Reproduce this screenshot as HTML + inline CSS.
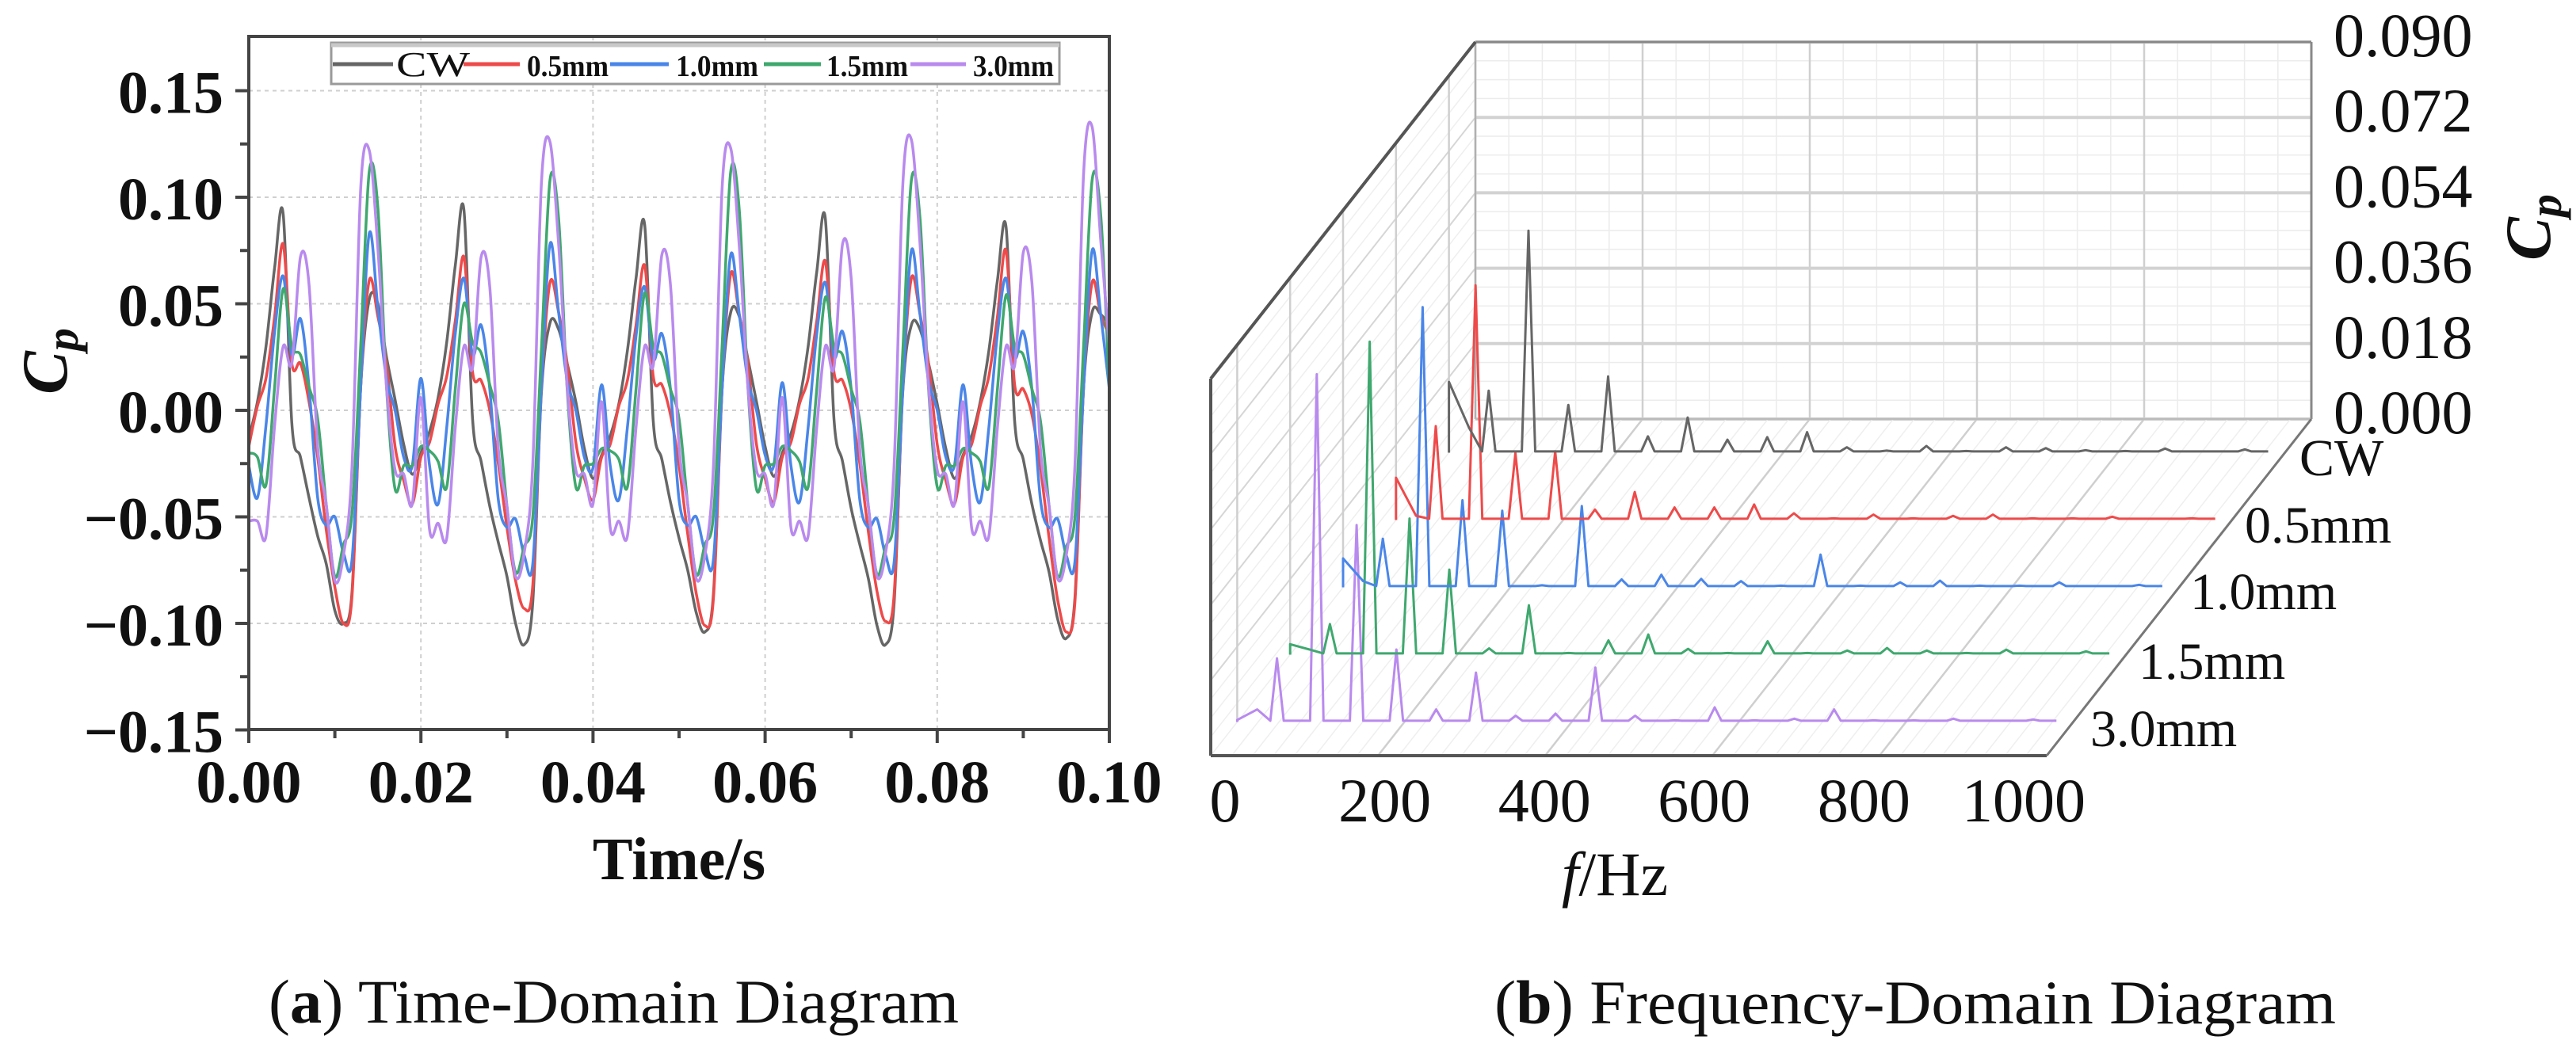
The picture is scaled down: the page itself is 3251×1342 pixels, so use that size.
<!DOCTYPE html>
<html><head><meta charset="utf-8"><title>Cp time and frequency domain</title>
<style>
html,body{margin:0;padding:0;background:#fff;}
svg{display:block;}
text{font-family:"Liberation Serif","Times New Roman",serif;fill:#111;}
</style></head>
<body>
<svg id="fig" xmlns="http://www.w3.org/2000/svg" width="3251" height="1342" viewBox="0 0 3251 1342">
<rect x="0" y="0" width="3251" height="1342" fill="#fff"/>
<g id="left"></g>
<g id="right"></g>
<text x="339" y="1291" font-size="78" textLength="871" lengthAdjust="spacingAndGlyphs">(<tspan font-weight="bold">a</tspan>) Time-Domain Diagram</text>
<text x="1886" y="1292" font-size="78" textLength="1062" lengthAdjust="spacingAndGlyphs">(<tspan font-weight="bold">b</tspan>) Frequency-Domain Diagram</text>
</svg>
<script>
// ---------- time-domain data (t = 0 .. 0.1 s, step 0.001 s) ----------
const timeStep = 0.001;
const seriesNames = ["CW","0.5mm","1.0mm","1.5mm","3.0mm"];
const seriesColors = ["#666666","#ee4a4a","#4a86e8","#3fa86e","#b98aee"];
const cpCW = [-0.013,0.004,0.030,0.067,0.092,-0.006,-0.022,-0.041,-0.059,-0.072,-0.094,-0.100,-0.085,0.011,0.052,0.050,0.025,0.005,-0.016,-0.030,-0.020,
-0.010,0.006,0.032,0.068,0.094,-0.004,-0.024,-0.045,-0.062,-0.078,-0.100,-0.110,-0.090,0.008,0.041,0.038,0.022,0.004,-0.018,-0.032,-0.021,
-0.012,0.003,0.028,0.062,0.087,-0.005,-0.023,-0.043,-0.060,-0.075,-0.095,-0.104,-0.086,0.010,0.046,0.044,0.024,0.004,-0.017,-0.031,-0.020,
-0.011,0.005,0.030,0.065,0.090,-0.004,-0.024,-0.046,-0.063,-0.079,-0.101,-0.110,-0.090,0.009,0.040,0.038,0.022,0.003,-0.018,-0.032,-0.021,
-0.012,0.004,0.028,0.061,0.086,-0.005,-0.023,-0.044,-0.061,-0.076,-0.098,-0.107,-0.088,0.010,0.046,0.045,0.040];
const cp05 = [-0.017,0.002,0.015,0.044,0.078,0.022,0.022,0.004,-0.022,-0.056,-0.083,-0.100,-0.087,0.011,0.061,0.044,0.022,-0.017,-0.033,-0.044,-0.022,
-0.015,0.003,0.016,0.042,0.072,0.018,0.014,0.000,-0.025,-0.055,-0.080,-0.093,-0.082,0.010,0.060,0.046,0.022,-0.015,-0.032,-0.042,-0.022,
-0.016,0.002,0.014,0.040,0.068,0.016,0.012,-0.002,-0.026,-0.058,-0.086,-0.101,-0.088,0.010,0.064,0.045,0.022,-0.016,-0.032,-0.043,-0.022,
-0.015,0.003,0.015,0.042,0.070,0.018,0.014,0.000,-0.025,-0.057,-0.085,-0.099,-0.086,0.011,0.062,0.045,0.022,-0.016,-0.033,-0.044,-0.022,
-0.016,0.002,0.016,0.044,0.075,0.012,0.010,-0.002,-0.027,-0.060,-0.089,-0.104,-0.090,0.010,0.060,0.045,0.035];
const cp10 = [-0.026,-0.041,-0.007,0.037,0.063,0.026,0.043,0.011,-0.041,-0.054,-0.050,-0.067,-0.070,0.011,0.083,0.048,0.015,0.000,-0.022,-0.026,0.015,
-0.026,-0.044,-0.008,0.036,0.062,0.026,0.040,0.010,-0.042,-0.055,-0.051,-0.068,-0.072,0.010,0.078,0.046,0.014,0.000,-0.022,-0.027,0.012,
-0.026,-0.042,-0.008,0.035,0.058,0.024,0.036,0.010,-0.042,-0.054,-0.050,-0.066,-0.070,0.010,0.073,0.045,0.014,0.000,-0.021,-0.026,0.013,
-0.026,-0.043,-0.008,0.036,0.060,0.025,0.037,0.010,-0.042,-0.055,-0.051,-0.068,-0.071,0.010,0.075,0.045,0.014,0.000,-0.022,-0.026,0.012,
-0.026,-0.043,-0.008,0.036,0.062,0.025,0.037,0.010,-0.042,-0.055,-0.051,-0.068,-0.071,0.010,0.075,0.045,0.010];
const cp15 = [-0.020,-0.022,-0.035,0.011,0.057,0.030,0.026,0.011,-0.004,-0.044,-0.078,-0.063,-0.048,0.030,0.112,0.095,0.011,-0.037,-0.026,-0.026,-0.017,
-0.019,-0.024,-0.036,0.010,0.050,0.032,0.027,0.012,-0.005,-0.045,-0.076,-0.064,-0.050,0.028,0.108,0.090,0.010,-0.036,-0.026,-0.025,-0.018,
-0.019,-0.023,-0.036,0.010,0.055,0.030,0.026,0.010,-0.004,-0.044,-0.077,-0.063,-0.049,0.030,0.112,0.094,0.011,-0.037,-0.026,-0.025,-0.017,
-0.019,-0.024,-0.036,0.010,0.053,0.030,0.026,0.010,-0.005,-0.045,-0.077,-0.064,-0.050,0.028,0.108,0.090,0.010,-0.036,-0.026,-0.026,-0.018,
-0.020,-0.024,-0.036,0.010,0.054,0.030,0.026,0.010,-0.005,-0.045,-0.078,-0.064,-0.050,0.029,0.108,0.092,0.010];
const cp30 = [-0.052,-0.052,-0.059,-0.007,0.030,0.022,0.072,0.059,-0.017,-0.044,-0.080,-0.068,-0.026,0.104,0.122,0.076,0.011,-0.028,-0.030,-0.044,0.006,
-0.056,-0.053,-0.060,-0.008,0.030,0.020,0.072,0.058,-0.018,-0.045,-0.078,-0.067,-0.025,0.106,0.126,0.078,0.011,-0.028,-0.030,-0.044,0.004,
-0.055,-0.052,-0.059,-0.008,0.030,0.021,0.073,0.059,-0.017,-0.044,-0.079,-0.068,-0.026,0.104,0.123,0.077,0.011,-0.028,-0.030,-0.044,0.006,
-0.055,-0.052,-0.059,-0.008,0.030,0.020,0.078,0.062,-0.018,-0.045,-0.078,-0.067,-0.025,0.106,0.127,0.078,0.011,-0.028,-0.030,-0.044,0.004,
-0.055,-0.052,-0.059,-0.008,0.030,0.021,0.074,0.060,-0.018,-0.045,-0.079,-0.068,-0.026,0.110,0.133,0.080,0.030];
const timeTicks = ["0.00","0.02","0.04","0.06","0.08","0.10"];
const cpTicksLeft = ["0.15","0.10","0.05","0.00","\u22120.05","\u22120.10","\u22120.15"];

// ---------- frequency-domain data ----------
const harmonicFreqs = [47.6,95.2,142.8,190.4,238,285.6,333.2,380.8,428.4,476,523.6,571.2,618.8,666.4,714,761.6,809.2,856.8,904.4,952];
const dcCW = 0.0169, lowCW = 0.006;
const dc05 = 0.0101, low05 = 0.001;
const dc10 = 0.0069, low10 = 0.0015;
const dc15 = 0.0025, low15 = 0.0012;
const dc30 = 0.0005, low30 = 0.003;
const ampCW = [0.0148,0.053,0.0114,0.0182,0.0039,0.0084,0.0031,0.0037,0.0049,0.0013,0.0005,0.0016,0.0004,0.0013,0.0011,0.0006,0.0004,0.0010,0.0003,0.0008];
const amp05 = [0.0224,0.056,0.016,0.0164,0.0025,0.0067,0.003,0.003,0.0037,0.0016,0.0004,0.0013,0.0004,0.001,0.0013,0.0004,0.0004,0.0008,0.0003,0.0004];
const amp10 = [0.0116,0.0669,0.0208,0.0183,0.0005,0.0194,0.0019,0.003,0.002,0.0015,0.0004,0.0078,0.0004,0.0012,0.0016,0.0004,0.0004,0.0012,0.0003,0.0006];
const amp15 = [0.0073,0.0747,0.0325,0.0203,0.0015,0.0118,0.0004,0.0034,0.0048,0.0014,0.0004,0.0032,0.0004,0.001,0.0016,0.001,0.0004,0.0012,0.0003,0.0008];
const amp30 = [0.0152,0.083,0.047,0.0173,0.003,0.0118,0.0015,0.002,0.013,0.0015,0.0004,0.0035,0.0004,0.0008,0.003,0.0004,0.0004,0.0008,0.0003,0.0006];
const freqTicks = ["0","200","400","600","800","1000"];
const cpTicksRight = ["0.000","0.018","0.036","0.054","0.072","0.090"];

const NS = "http://www.w3.org/2000/svg";
function mk(parent, tag, attrs){
  const e = document.createElementNS(NS, tag);
  for (const k in attrs) e.setAttribute(k, attrs[k]);
  parent.appendChild(e);
  return e;
}

// ================= LEFT CHART =================
const L = document.getElementById("left");
const xL = t => 314 + t / 0.1 * 1086;
const yL = v => 518 - v * 2690;
// grid
for (let i = 1; i < 5; i++) {
  const g = mk(L, "line", {x1: xL(i*0.02), x2: xL(i*0.02), y1: 46, y2: 921, stroke: "#cfcfcf", "stroke-width": 2, "stroke-dasharray": "5 5"});
  
  
}
for (let i = 0; i < 7; i++) {
  const v = 0.15 - i*0.05;
  const g = mk(L, "line", {x1: 314, x2: 1400, y1: yL(v), y2: yL(v), stroke: "#cfcfcf", "stroke-width": 2, "stroke-dasharray": "5 5"});
  
  
}
// curves
const clip = mk(mk(L, "defs", {}), "clipPath", {id: "plotclip"});
mk(clip, "rect", {x: 314, y: 46, width: 1086, height: 875});
const seriesData = [cpCW, cp05, cp10, cp15, cp30];
function smoothPath(pts){
  let d = "M" + pts[0][0].toFixed(1) + "," + pts[0][1].toFixed(1);
  for (let i = 0; i < pts.length - 1; i++) {
    const p0 = pts[Math.max(0, i-1)], p1 = pts[i], p2 = pts[i+1], p3 = pts[Math.min(pts.length-1, i+2)];
    const c1x = p1[0] + (p2[0]-p0[0])/6, c1y = p1[1] + (p2[1]-p0[1])/6;
    const c2x = p2[0] - (p3[0]-p1[0])/6, c2y = p2[1] - (p3[1]-p1[1])/6;
    d += " C" + c1x.toFixed(1) + "," + c1y.toFixed(1) + " " + c2x.toFixed(1) + "," + c2y.toFixed(1) + " " + p2[0].toFixed(1) + "," + p2[1].toFixed(1);
  }
  return d;
}
seriesData.forEach((arr, si) => {
  const pts = arr.map((v, i) => [xL(i*timeStep), yL(v)]);
  const p = mk(L, "path", {d: smoothPath(pts), fill: "none", stroke: seriesColors[si], "stroke-width": 3.5, "stroke-linejoin": "round", "clip-path": "url(#plotclip)"});
  
  
});
// frame
const fr = mk(L, "path", {d: "M314,46 H1400 V921 H314 Z", fill: "none", stroke: "#444", "stroke-width": 4});


// ticks
for (let i = 0; i <= 10; i++) {
  const x = xL(i*0.01);
  const tk = mk(L, "line", {x1: x, x2: x, y1: 921, y2: i%2===0 ? 938 : 932, stroke: "#444", "stroke-width": 4});
  
  
}
for (let i = 0; i <= 12; i++) {
  const y = yL(0.15 - i*0.025);
  const tk = mk(L, "line", {x1: i%2===0 ? 297 : 303, x2: 314, y1: y, y2: y, stroke: "#444", "stroke-width": 4});
  
  
}
timeTicks.forEach((s, i) => {
  const t = mk(L, "text", {x: xL(i*0.02), y: 1013, "font-size": 76, "font-weight": "bold", "text-anchor": "middle"});
  t.textContent = s;
  
  
});
cpTicksLeft.forEach((s, i) => {
  const t = mk(L, "text", {x: 282, y: yL(0.15 - i*0.05) + 28, "font-size": 76, "font-weight": "bold", "text-anchor": "end"});
  t.textContent = s;
  
  
});
const xt = mk(L, "text", {x: 857, y: 1110, "font-size": 76, "font-weight": "bold", "text-anchor": "middle"});
xt.textContent = "Time/s";


const yt = mk(L, "text", {x: 0, y: 0, "font-size": 82, "font-weight": "bold", "font-style": "italic", "text-anchor": "middle", transform: "translate(84,456) rotate(-90)"});
yt.innerHTML = 'C<tspan font-size="58" dy="14">p</tspan>';


// legend
const lg = mk(L, "g", {});


mk(lg, "rect", {x: 418, y: 54, width: 919, height: 52, fill: "#fff", stroke: "#9a9a9a", "stroke-width": 3});
mk(lg, "line", {x1: 418, x2: 1337, y1: 57, y2: 57, stroke: "#c8c8c8", "stroke-width": 5});
const legLine = [[420,496],[585,656],[770,844],[964,1036],[1149,1219]];
const legText = [[500,93],[665,103],[853,104],[1043,103],[1228,102]];
seriesNames.forEach((n, i) => {
  const ln = mk(lg, "line", {x1: legLine[i][0], x2: legLine[i][1], y1: 81, y2: 81, stroke: seriesColors[i], "stroke-width": 5});
  
  
  const t = mk(lg, "text", {x: legText[i][0], y: 96, "font-size": i===0 ? 44 : 38, "font-weight": i===0 ? "normal" : "bold", textLength: legText[i][1], lengthAdjust: "spacingAndGlyphs"});
  t.textContent = n;
  
  
});

// ================= RIGHT CHART (3D oblique) =================
const R = document.getElementById("right");
const FX = 1.055, DX = 334, DY = 425, VY = 5289;
const P = (f, v, d) => [1528 + f*FX + d*DX, 954 - d*DY - v*VY];
function seg(par, a, b, color, w, name){
  const e = mk(par, "line", {x1: a[0], y1: a[1], x2: b[0], y2: b[1], stroke: color, "stroke-width": w});
  
  
  return e;
}
// back plane grid
for (let f = 0; f <= 1000; f += 40) seg(R, P(f,0,1), P(f,0.09,1), "#ececec", 1.5, "back-minor-vgrid");
for (let k = 0; k <= 20; k++) seg(R, P(0,k*0.0045,1), P(1000,k*0.0045,1), "#ececec", 1.5, "back-minor-hgrid");
for (let f = 0; f <= 1000; f += 200) seg(R, P(f,0,1), P(f,0.09,1), "#cfcfcf", 2.5, "back-major-vgrid");
for (let k = 0; k <= 5; k++) seg(R, P(0,k*0.018,1), P(1000,k*0.018,1), "#d2d2d2", 4, "back-major-hgrid");
// left wall
for (let k = 0; k <= 20; k++) seg(R, P(0,k*0.0045,0), P(0,k*0.0045,1), "#efefef", 1.5, "wall-minor-grid");
for (let k = 1; k <= 5; k++) seg(R, P(0,k*0.018,0), P(0,k*0.018,1), "#d6d6d6", 2, "wall-major-grid");
[0.1,0.3,0.5,0.7,0.9].forEach(d => seg(R, P(0,0,d), P(0,0.09,d), "#cfcfcf", 2.5, "wall-depth-grid"));
// floor
for (let f = 25; f < 1000; f += 25) seg(R, P(f,0,0), P(f,0,1), "#efefef", 1.5, "floor-minor-grid");
for (let f = 200; f < 1000; f += 200) seg(R, P(f,0,0), P(f,0,1), "#cfcfcf", 2.5, "floor-major-grid");
// box edges
seg(R, P(0,0,1), P(0,0.09,1), "#b0b0b0", 2.5, "back-left-edge");
seg(R, P(0,0.09,1), P(1000,0.09,1), "#888", 3, "back-top-edge");
seg(R, P(1000,0,1), P(1000,0.09,1), "#888", 3, "back-right-edge");
seg(R, P(0,0,1), P(1000,0,1), "#bbb", 2.5, "back-bottom-edge");
seg(R, P(0,0,0), P(0,0.09,0), "#555", 4, "front-left-edge");
seg(R, P(0,0.09,0), P(0,0.09,1), "#555", 4, "wall-top-edge");
seg(R, P(0,0,0), P(1000,0,0), "#555", 4, "front-bottom-edge");
seg(R, P(1000,0,0), P(1000,0,1), "#777", 3, "floor-right-edge");
// spectra
const specAmps = [ampCW, amp05, amp10, amp15, amp30];
const specDC = [dcCW, dc05, dc10, dc15, dc30];
const specLow = [lowCW, low05, low10, low15, low30];
const depths = [0.9, 0.7, 0.5, 0.3, 0.1];
const base = 0.0003, hw = 8;
[4,3,2,1,0].forEach(si => {
  const d = depths[si];
  const pts = [P(0,0,d), P(0,specDC[si],d), P(24,specLow[si],d)];
  harmonicFreqs.forEach((f, i) => {
    pts.push(P(f-hw, base, d));
    pts.push(P(f, specAmps[si][i], d));
    pts.push(P(f+hw, base, d));
  });
  pts.push(P(980, base, d));
  const pl = mk(R, "polyline", {points: pts.map(p => p[0].toFixed(1)+","+p[1].toFixed(1)).join(" "), fill: "none", stroke: seriesColors[si], "stroke-width": 3, "stroke-linejoin": "round"});
  
  
});
// series labels
const serLab = [[2902,600],[2833,685],[2764,769],[2699,857],[2638,942]];
seriesNames.forEach((n, i) => {
  const t = mk(R, "text", {x: serLab[i][0], y: serLab[i][1], "font-size": 66});
  t.textContent = n;
  
  
});
// cp ticks
cpTicksRight.forEach((s, i) => {
  const y = P(1000, i*0.018, 1)[1];
  const t = mk(R, "text", {x: 2945, y: y + 18, "font-size": 78});
  t.textContent = s;
  
  
});
const zt = mk(R, "text", {x: 0, y: 0, "font-size": 82, "font-weight": "bold", "font-style": "italic", "text-anchor": "middle", transform: "translate(3218,287) rotate(-90)"});
zt.innerHTML = 'C<tspan font-size="58" dy="14">p</tspan>';


// freq ticks
freqTicks.forEach((s, i) => {
  const t = mk(R, "text", {x: 1546 + i*201.6, y: 1037, "font-size": 78, "text-anchor": "middle"});
  t.textContent = s;
  
  
});
const ft = mk(R, "text", {x: 2038, y: 1130, "font-size": 78, "text-anchor": "middle"});
ft.innerHTML = '<tspan font-style="italic">f</tspan>/Hz';


</script>
</body></html>
